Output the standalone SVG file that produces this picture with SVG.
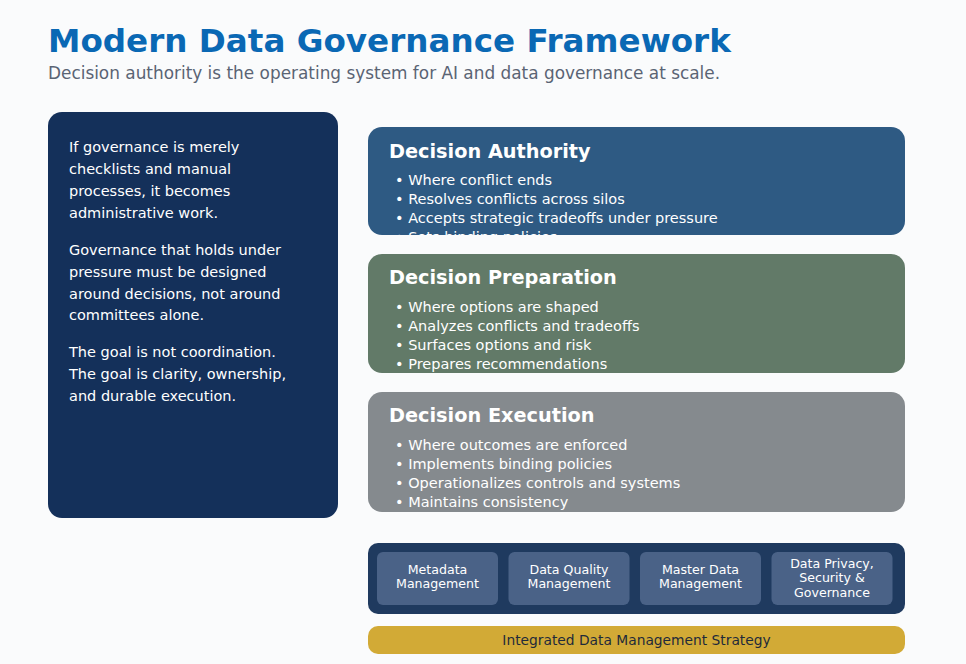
<svg xmlns="http://www.w3.org/2000/svg" width="966" height="664" viewBox="0 0 966 664">
<style>
text{font-family:"DejaVu Sans","Verdana",sans-serif}
.title{font-size:32.6px;font-weight:bold;fill:#0a68b4}
.sub{font-size:16.9px;fill:#5a6474}
.lt{font-size:14.5px;fill:#ffffff}
.bh{font-size:19.3px;font-weight:bold;fill:#ffffff}
.bl{font-size:14.5px;fill:#ffffff}
.cap{font-size:12.6px;fill:#ffffff;text-anchor:middle}
.inner{fill:#4a6287}
</style>
<defs>
<clipPath id="c1"><rect x="368" y="127" width="537" height="108" rx="14"/></clipPath>
<clipPath id="c2"><rect x="368" y="254" width="537" height="119" rx="14"/></clipPath>
<clipPath id="c3"><rect x="368" y="392" width="537" height="120" rx="14"/></clipPath>
</defs>
<rect width="966" height="664" fill="#fafbfc"/>
<text class="title" x="48" y="52">Modern Data Governance Framework</text>
<text class="sub" x="48" y="79">Decision authority is the operating system for AI and data governance at scale.</text>

<g id="left-panel">
<rect x="48" y="112" width="290" height="406" rx="14" fill="#14305a"/>
<text class="lt" x="69" y="152">If governance is merely</text>
<text class="lt" x="69" y="174">checklists and manual</text>
<text class="lt" x="69" y="196">processes, it becomes</text>
<text class="lt" x="69" y="218">administrative work.</text>
<text class="lt" x="69" y="255">Governance that holds under</text>
<text class="lt" x="69" y="277">pressure must be designed</text>
<text class="lt" x="69" y="299">around decisions, not around</text>
<text class="lt" x="69" y="320">committees alone.</text>
<text class="lt" x="69" y="357">The goal is not coordination.</text>
<text class="lt" x="69" y="379">The goal is clarity, ownership,</text>
<text class="lt" x="69" y="401">and durable execution.</text>
</g>

<g id="decision-authority">
<rect x="368" y="127" width="537" height="108" rx="14" fill="#2e5a83"/>
<g clip-path="url(#c1)">
<text class="bh" x="389" y="157.5">Decision Authority</text>
<text class="bl" x="395" y="185">• Where conflict ends</text>
<text class="bl" x="395" y="204">• Resolves conflicts across silos</text>
<text class="bl" x="395" y="223">• Accepts strategic tradeoffs under pressure</text>
<text class="bl" x="395" y="242">• Sets binding policies</text>
</g>
</g>

<g id="decision-preparation">
<rect x="368" y="254" width="537" height="119" rx="14" fill="#627a68"/>
<g clip-path="url(#c2)">
<text class="bh" x="389" y="283.5">Decision Preparation</text>
<text class="bl" x="395" y="312">• Where options are shaped</text>
<text class="bl" x="395" y="331">• Analyzes conflicts and tradeoffs</text>
<text class="bl" x="395" y="350">• Surfaces options and risk</text>
<text class="bl" x="395" y="369">• Prepares recommendations</text>
</g>
</g>

<g id="decision-execution">
<rect x="368" y="392" width="537" height="120" rx="14" fill="#858a8e"/>
<g clip-path="url(#c3)">
<text class="bh" x="389" y="421.5">Decision Execution</text>
<text class="bl" x="395" y="450">• Where outcomes are enforced</text>
<text class="bl" x="395" y="469">• Implements binding policies</text>
<text class="bl" x="395" y="488">• Operationalizes controls and systems</text>
<text class="bl" x="395" y="507">• Maintains consistency</text>
</g>
</g>

<g id="data-management">
<rect x="368" y="543" width="537" height="71" rx="10" fill="#1f3a5f"/>
<g id="metadata">
<rect class="inner" x="377" y="552" width="121" height="53" rx="6"/>
<text class="cap" x="437.5" y="574">Metadata</text>
<text class="cap" x="437.5" y="588">Management</text>
</g>
<g id="data-quality">
<rect class="inner" x="508.5" y="552" width="121" height="53" rx="6"/>
<text class="cap" x="569" y="574">Data Quality</text>
<text class="cap" x="569" y="588">Management</text>
</g>
<g id="master-data">
<rect class="inner" x="640" y="552" width="121" height="53" rx="6"/>
<text class="cap" x="700.5" y="574">Master Data</text>
<text class="cap" x="700.5" y="588">Management</text>
</g>
<g id="privacy">
<rect class="inner" x="771.5" y="552" width="121" height="53" rx="6"/>
<text class="cap" x="832" y="568">Data Privacy,</text>
<text class="cap" x="832" y="582">Security &amp;</text>
<text class="cap" x="832" y="597">Governance</text>
</g>
</g>

<g id="strategy">
<rect x="368" y="626" width="537" height="28" rx="10" fill="#d2aa36"/>
<text x="636.5" y="644.5" text-anchor="middle" style="font-size:13.8px;fill:#1f2a3a">Integrated Data Management Strategy</text>
</g>
</svg>
